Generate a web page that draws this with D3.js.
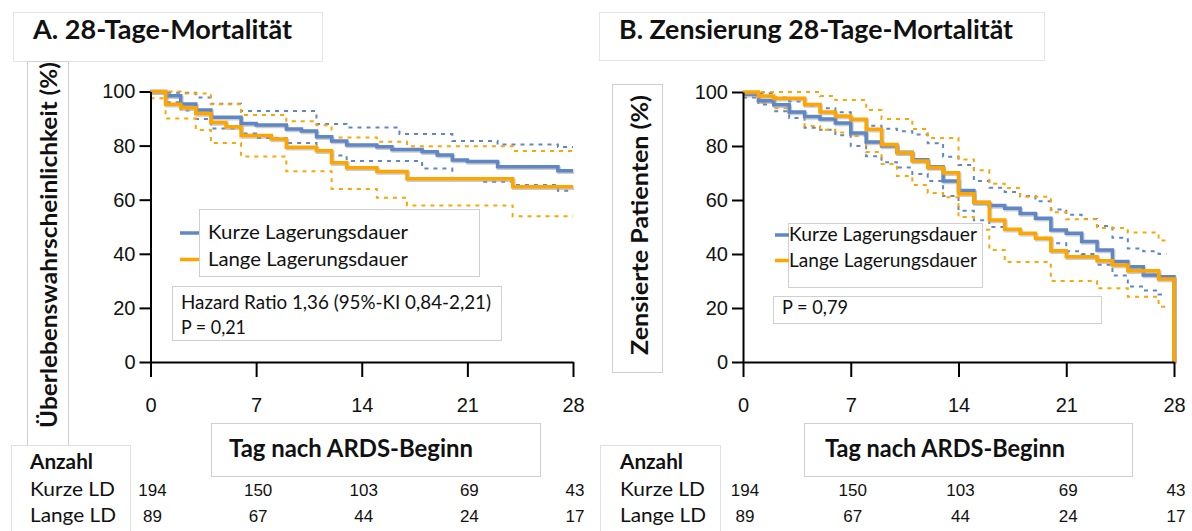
<!DOCTYPE html>
<html><head><meta charset="utf-8">
<script src="https://cdn.jsdelivr.net/npm/d3@7"></script>
<style>body{margin:0;background:#fff}svg{display:block}</style>
</head><body>
<svg id="c" width="1192" height="531"></svg>
<script>
// ---------------- data ----------------
const xTicks = [0, 7, 14, 21, 28];
const yTicks = [0, 20, 40, 60, 80, 100];
const seriesNames = ["Kurze Lagerungsdauer", "Lange Lagerungsdauer"];
const riskRowLabels = ["Kurze LD", "Lange LD"];
const riskKurze = [194, 150, 103, 69, 43];
const riskLange = [89, 67, 44, 24, 17];

// Panel A: 28-Tage-Mortalität (Kaplan-Meier survival, %)
const aKurzeDays = [0,1,2,3,4,6,7,9,10,11,12,13,15,16,18,19,20,21,23,27,28];
const aKurzeSurv = [100,98.4,95.4,93.2,90.5,88.2,87.6,86.1,85.4,83.3,81.7,80.2,79.6,78.6,77.7,76.5,74.7,74.1,72.2,70.7,70.7];
const aLangeDays = [0,1,2,3,4,5,6,8,9,11,12,13,15,17,24,28];
const aLangeSurv = [100,95.3,94,91.9,88.5,87,83.7,82.4,79.4,78.1,73.7,71.8,70.4,67.7,64.8,64.8];
const aKurzeUpDays = [0,1,3,4,6,11,13,16.5,20,23,27,28];
const aKurzeUp     = [100,99.5,97.8,95.5,92.8,88,86.7,84.3,81.7,80.4,79.5,79.5];
const aKurzeLoDays = [0,1,2,3,4,6,7,9,11,12,13,18,20,22,24,27,28];
const aKurzeLo     = [100,96,93,89.8,86.3,84.5,82.8,81,78,76.3,74.3,71.5,68,66.6,65.4,63.3,63.3];
const aLangeUpDays = [0,2,4,6,9,11,12,15,17,24,28];
const aLangeUp     = [100,99.3,95.3,91.3,89,87.5,83,81.4,79.8,78,78];
const aLangeLoDays = [0,1,3,4,6,9,12,15,17,24,28];
const aLangeLo     = [97.5,90,85.8,81,76,70.5,64,60.7,57.9,53.9,53.9];

// Panel B: Zensierung 28-Tage-Mortalität (% patients not censored)
const bDays = [0,1,2,3,4,5,6,7,8,9,10,11,12,13,14,15,16,17,18,19,20,21,22,23,24,25,26,27,28];
const bKurze = [99.2,96.8,95.3,92.6,90.9,90.0,88.5,84.8,81.5,80,77.7,74.9,72.3,67,63.5,59.1,58,56.9,55,53.2,48.9,47.7,44.6,41.5,37.2,35.3,32.2,31.6,0];
const bLange = [100,98.5,97.7,97.7,95.4,92.6,91.1,89.9,86.2,80.6,77.5,74.4,72,70.1,62.3,59.2,52.6,49.2,47.7,45.8,41.2,39,39,37.5,35.9,33.8,33.8,30.7,0];
const bCiDays = [0,1,2,3,4,5,6,7,8,9,10,11,12,13,14,15,16,17,18,19,20,21,22,23,24,25,26,27,27.5];
const bKurzeUp = [100,99.5,98,96.5,95,94,92.5,90,87.5,86.4,85.5,84.3,81,76,73,67,64.5,63,61.5,59.5,56.5,54.5,53,50.4,46,42,41,40,40];
const bKurzeLo = [98,95.4,92.9,90.4,86.8,86,84,80,76.2,74,72,69.6,67,61.5,56,52.5,50,49,47.5,46,44,41,40,36,32,28,26.5,25,25];
const bLangeUpDays = [0,5,6,8,9,11,12,14,15,16,17,18,20,21,23,25,27,27.5];
const bLangeUp     = [100,98.5,97,93.3,90,86.3,83,75,71,66,64.4,61.2,55.5,52.9,49.6,48,45,45];
const bLangeLoDays = [0,1,2,3,4,5,6,7,8,9,10,11,12,13,14,15,16,17,20,23,25,27,27.5];
const bLangeLo     = [99,96,94,92.3,87.4,86,85,83.7,77.8,73.3,68.9,65.6,62.6,61,53.7,49,41.5,37,30,27.3,24.2,20.5,20.5];

// ---------------- drawing ----------------
const BLUE = "#5f86c5", ORANGE = "#ffa500", BOXC = "#d4d4d4";
const CAL = "Lato, 'Open Sans', sans-serif";
const ARIAL = "'Liberation Sans', Arial, sans-serif";
const svg = d3.select("#c");

function txt(x, y, s, o = {}) {
  const t = svg.append("text").attr("x", x).attr("y", y).text(s)
    .attr("font-family", o.family || CAL)
    .attr("font-size", o.size || 20)
    .attr("font-weight", o.weight || "normal")
    .attr("fill", "#111")
    .attr("text-anchor", o.anchor || "start");
  if (o.len) t.attr("textLength", o.len).attr("lengthAdjust", "spacingAndGlyphs");
  if (o.rotate) t.attr("transform", `rotate(-90,${x},${y})`);
  return t;
}
function box(x0, y0, x1, y1, stroke) {
  svg.append("rect").attr("x", x0 + 0.5).attr("y", y0 + 0.5)
    .attr("width", x1 - x0).attr("height", y1 - y0)
    .attr("fill", "#fff").attr("stroke", stroke || BOXC).attr("stroke-width", 1);
}
function stepLine(g, x, y, days, vals, color, dashed) {
  const pts = days.map((d, i) => [d, vals[i]]);
  const line = d3.line().x(d => x(d[0])).y(d => y(d[1])).curve(d3.curveStepAfter);
  if (!dashed) {
    g.append("path").attr("d", line(pts)).attr("fill", "none")
      .attr("stroke", "#a0a0a0").attr("stroke-width", 3.5).attr("opacity", 0.55)
      .attr("transform", "translate(1.2,1.5)");
  }
  g.append("path").attr("d", line(pts)).attr("fill", "none")
    .attr("stroke", color)
    .attr("stroke-width", dashed ? 2 : 3.5)
    .attr("stroke-dasharray", dashed ? "4,5" : null);
}

function panel(p) {
  const x = d3.scaleLinear().domain([0, 28]).range([p.x0, p.x1]);
  const y = d3.scaleLinear().domain([0, 100]).range([362, p.yTop]);
  // boxes
  box(p.titleBox[0], p.titleBox[1], p.titleBox[2], p.titleBox[3], "#e4e4e4");
  box(p.ylabBox[0], p.ylabBox[1], p.ylabBox[2], p.ylabBox[3], "#cfcfcf");
  box(p.xlabBox[0], p.xlabBox[1], p.xlabBox[2], p.xlabBox[3], "#cfcfcf");
  box(p.tabBox[0], p.tabBox[1], p.tabBox[2], p.tabBox[3], "#e0e0e0");
  txt(p.title[0], p.title[1], p.title[2], {size: 26, weight: "bold", len: p.title[3]});
  txt(p.ylab[0], p.ylab[1], p.ylab[2], {size: 23, weight: "bold", anchor: "middle", rotate: true, len: p.ylab[3]});

  const g = svg.append("g");
  // dashed CIs
  p.cis.forEach(c => stepLine(g, x, y, c[0], c[1], c[2], true));
  // legend + info boxes (above CIs, below main curves? in reference boxes cover nothing important)
  box(p.legBox[0], p.legBox[1], p.legBox[2], p.legBox[3], "#cfcfcf");
  box(p.infoBox[0], p.infoBox[1], p.infoBox[2], p.infoBox[3], "#cfcfcf");
  // main curves
  p.curves.forEach(c => stepLine(g, x, y, c[0], c[1], c[2], false));

  // axes
  const ya = svg.append("g").attr("transform", `translate(${p.x0},0)`)
    .call(d3.axisLeft(y).tickValues(yTicks).tickSize(11).tickPadding(4).tickSizeOuter(0));
  ya.select(".domain").attr("stroke", "#000").attr("stroke-width", 2);
  ya.selectAll(".tick line").attr("stroke", "#000").attr("stroke-width", 2);
  ya.selectAll(".tick text").attr("font-family", ARIAL).attr("font-size", 20).attr("fill", "#111");
  const xa = svg.append("g").attr("transform", "translate(0,362)")
    .call(d3.axisBottom(x).tickValues(xTicks).tickSize(15).tickPadding(21).tickSizeOuter(0));
  xa.select(".domain").attr("stroke", "#000").attr("stroke-width", 2);
  xa.selectAll(".tick line").attr("stroke", "#000").attr("stroke-width", 2);
  xa.selectAll(".tick text").attr("font-family", ARIAL).attr("font-size", 20).attr("fill", "#111");

  // legend
  seriesNames.forEach((n, i) => {
    const ly = p.leg.y0 + i * p.leg.dy;
    svg.append("line").attr("x1", p.leg.lx0).attr("x2", p.leg.lx1)
      .attr("y1", ly - 6).attr("y2", ly - 6)
      .attr("stroke", [BLUE, ORANGE][i]).attr("stroke-width", 3.5);
    txt(p.leg.tx, ly, n, {size: p.leg.size, len: p.leg.len});
  });
  p.info.forEach(s => txt(s[0], s[1], s[2], {size: 19.5, len: s[3]}));

  // x label
  txt(p.xlab[0], p.xlab[1], "Tag nach ARDS-Beginn", {size: 25, weight: "bold", len: p.xlab[2]});
  // risk table
  txt(p.tabX, 469, "Anzahl", {size: 20, weight: "bold", len: 63});
  [riskKurze, riskLange].forEach((row, r) => {
    const ry = 496 + r * 26;
    txt(p.tabX, ry, riskRowLabels[r], {size: 20, len: r === 0 ? 85 : 86});
    row.forEach((v, i) => txt(x(xTicks[i]) + 2, ry, v, {family: ARIAL, size: 17, anchor: "middle"}));
  });
}

panel({
  x0: 150.5, x1: 573, yTop: 91.5,
  titleBox: [13, 12, 322, 61],
  title: [33, 39, "A. 28-Tage-Mortalität", 259],
  ylabBox: [27, 61, 68, 445],
  ylab: [57, 245, "Überlebenswahrscheinlichkeit (%)", 366],
  xlabBox: [211, 423, 540, 476],
  xlab: [229, 457, 244],
  tabBox: [11, 445, 130, 531],
  tabX: 30,
  legBox: [199, 209, 479, 276],
  infoBox: [172, 286, 501, 340],
  leg: {y0: 239, dy: 26.5, lx0: 180, lx1: 199, tx: 208, size: 20, len: 200},
  info: [[181, 309, "Hazard Ratio 1,36 (95%-KI 0,84-2,21)", 310], [181, 334, "P = 0,21", 65]],
  cis: [[aKurzeUpDays, aKurzeUp, BLUE], [aKurzeLoDays, aKurzeLo, BLUE],
        [aLangeUpDays, aLangeUp, ORANGE], [aLangeLoDays, aLangeLo, ORANGE]],
  curves: [[aKurzeDays, aKurzeSurv, BLUE], [aLangeDays, aLangeSurv, ORANGE]]
});

panel({
  x0: 743, x1: 1174, yTop: 92,
  titleBox: [599, 12, 1044, 60],
  title: [619, 39, "B. Zensierung 28-Tage-Mortalität", 394],
  ylabBox: [612, 84, 662, 372],
  ylab: [648, 225, "Zensierte Patienten (%)", 260],
  xlabBox: [804, 423, 1132, 476],
  xlab: [825, 457, 240],
  tabBox: [600, 445, 720, 531],
  tabX: 620,
  legBox: [788, 223, 982, 287],
  infoBox: [773, 296, 1101, 323],
  leg: {y0: 241, dy: 25.5, lx0: 775, lx1: 789, tx: 789, size: 19.5, len: 188},
  info: [[782, 314, "P = 0,79", 66]],
  cis: [[bCiDays, bKurzeUp, BLUE], [bCiDays, bKurzeLo, BLUE],
        [bLangeUpDays, bLangeUp, ORANGE], [bLangeLoDays, bLangeLo, ORANGE]],
  curves: [[bDays, bKurze, BLUE], [bDays, bLange, ORANGE]]
});
</script>
</body></html>
